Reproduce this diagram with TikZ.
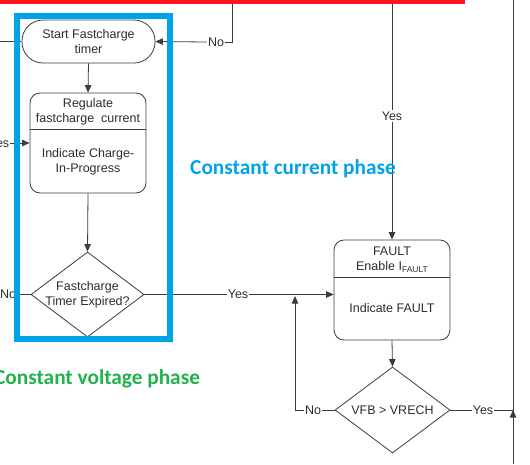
\documentclass[tikz,border=0pt]{standalone}
\usepackage{fontspec}
\setmainfont{Liberation Sans}
\newfontfamily\calfont{Carlito}
\usetikzlibrary{arrows.meta,shapes.geometric}
\definecolor{lineC}{RGB}{60,60,60}
\definecolor{txtC}{RGB}{45,45,45}
\definecolor{phaseBlue}{RGB}{0,162,232}
\definecolor{phaseGreen}{RGB}{34,177,76}
\definecolor{topRed}{RGB}{255,20,30}
\tikzset{
  flow/.style={draw=lineC, line width=0.8pt},
  arr/.style={flow, -{Triangle[length=7.5pt,width=6.5pt]}},
  box/.style={draw=lineC, line width=0.8pt, rounded corners=10pt, fill=white, inner sep=0pt},
  decision/.style={draw=lineC, line width=0.8pt, diamond, fill=white, inner sep=0pt},
  txt/.style={text=txtC, font=\fontsize{12.5}{15}\selectfont, align=center, inner sep=0pt},
  lbl/.style={text=txtC, font=\fontsize{12.5}{15}\selectfont, fill=white, inner sep=1pt},
  phase/.style={font=\calfont\bfseries\fontsize{21.3}{25}\selectfont, inner sep=0pt}
}
\begin{document}
\begin{tikzpicture}[x=1pt,y=-1pt]
\useasboundingbox (0,0) rectangle (530,464);
\clip (0,0) rectangle (530,464);

% boxes
\node[box, rounded corners=21pt, minimum width=133pt, minimum height=43pt] (start) at (88.5,41.5) {};
\node[box, minimum width=116pt, minimum height=100pt] (reg) at (88,143) {};
\node[decision, minimum width=113pt, minimum height=85pt] (fd) at (87.5,294.5) {};
\node[box, minimum width=116pt, minimum height=100pt] (fault) at (392,290) {};
\node[decision, minimum width=115pt, minimum height=86pt] (vfb) at (392.5,410) {};

% dividers
\draw[flow] (reg.west |- 0,129) -- (reg.east |- 0,129);
\draw[flow] (fault.west |- 0,277) -- (fault.east |- 0,277);

% texts
\node[txt] (tstart) at (88.5,41.5) {Start Fastcharge\\timer};
\node[txt] (treg1) at (88,112) {Regulate\\fastcharge\ \ current};
\node[txt] (treg2) at (88,161.5) {Indicate Charge-\\In-Progress};
\node[txt] (tfd) at (87.5,294.5) {Fastcharge\\Timer Expired?};
\node[txt] (tfault1) at (392,259.5) {FAULT\\Enable I\raisebox{-1.5pt}{\fontsize{8.5}{9}\selectfont FAULT}};
\node[txt] (tfault2) at (392,308) {Indicate FAULT};
\node[txt] (tvfb) at (392.5,410) {VFB > VRECH};

% connector end points
\coordinate (top1) at (232,0);
\coordinate (top2) at (392,0);
\coordinate (top3) at (513,0);
\coordinate (botR) at (513,464);
\coordinate (joinR) at (513,410);
\coordinate (inS) at (0,41.5);
\coordinate (loopT) at (295,296);

\node[lbl] (noA) at (216,42) {No};
\draw[flow] (top1) |- (noA.east);
\draw[arr] (noA.west) -- (start.east);

\node[lbl] (yesA) at (392,116) {Yes};
\draw[flow] (top2) -- (yesA.north);
\draw[arr] (yesA.south) -- (fault.north);

\draw[flow] (top3) -- (botR);
\draw[arr] (botR) -- (joinR);

\draw[arr] (inS) -- (start.west);

\node[lbl] (yesB) at (-1,143) {Yes};
\draw[arr] (yesB.east) -- (reg.west);

\draw[arr] (start.south) -- (reg.north);
\draw[arr] (reg.south) -- (fd.north);

\node[lbl] (noB) at (8,294.5) {No};
\draw[flow] (fd.west) -- (noB.east);

\node[lbl] (yesC) at (238,294.5) {Yes};
\draw[flow] (fd.east) -- (yesC.west);
\draw[arr] (yesC.east) -- (fault.west |- yesC);

\draw[arr] (fault.south) -- (vfb.north);

\node[lbl] (noC) at (313,410) {No};
\draw[flow] (vfb.west) -- (noC.east);
\draw[arr] (noC.west) -| (loopT);

\node[lbl] (yesD) at (483,410) {Yes};
\draw[flow] (vfb.east) -- (yesD.west);
\draw[flow] (yesD.east) -- (joinR);

\fill[topRed] (0,0) rectangle (465,3.5);

% phase highlight
\draw[phaseBlue, line width=6pt] (17,16) rectangle (170,339);
\node[phase, text=phaseBlue] (cc) at (293,169) {Constant current phase};
\node[phase, text=phaseGreen] (cv) at (97,379) {Constant voltage phase};
\end{tikzpicture}
\end{document}
